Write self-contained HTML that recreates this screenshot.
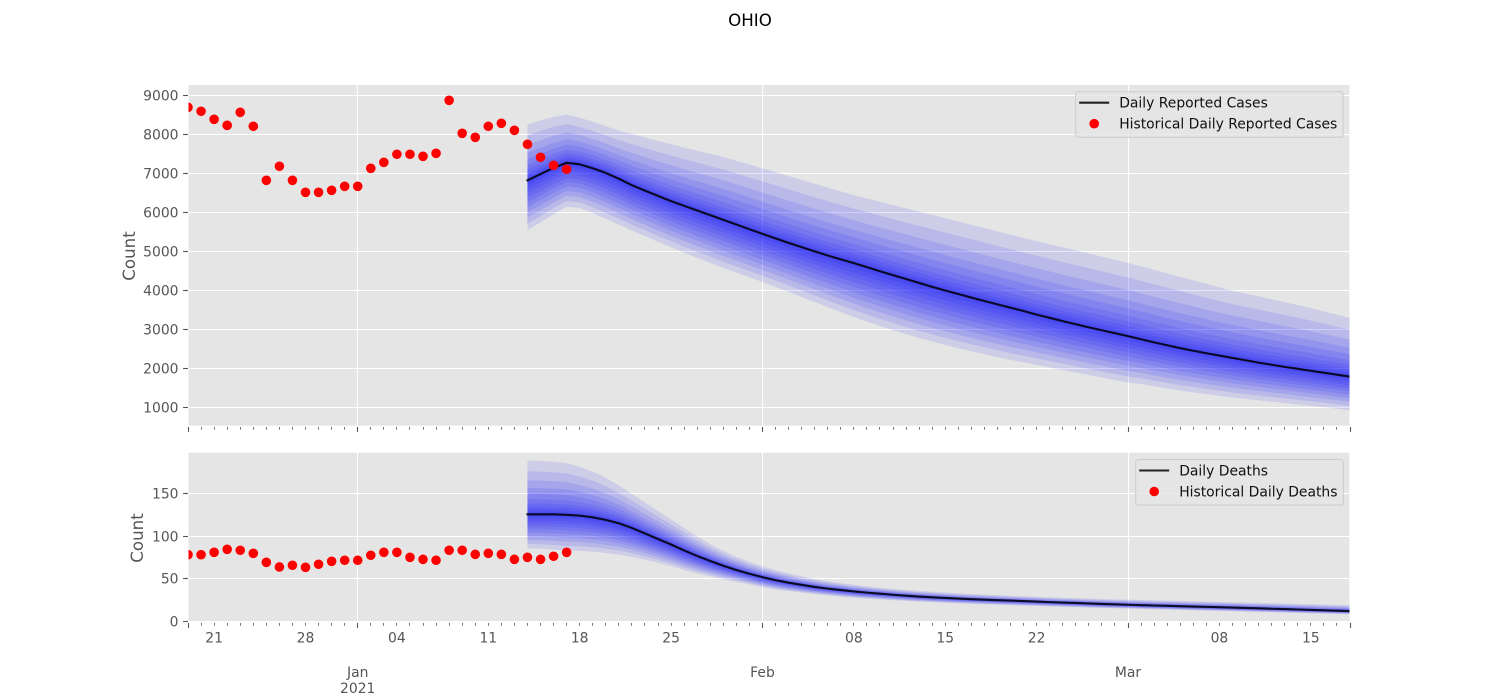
<!DOCTYPE html>
<html lang="en">
<head>
<meta charset="utf-8">
<title>OHIO forecast</title>
<style>
  html, body { margin: 0; padding: 0; background: #fff; }
  #chart { display: block; width: 1500px; height: 700px; font-family: "DejaVu Sans", "Liberation Sans", sans-serif; }
  .tick-label { font-size: 13.9px; fill: #555; }
  .axis-title { font-size: 16.67px; fill: #555; }
  .legend-text { font-size: 13.9px; fill: #111; }
</style>
</head>
<body>
<svg id="chart" xmlns="http://www.w3.org/2000/svg" width="1500" height="700" viewBox="0 0 1500 700">
  <defs>
    <clipPath id="clip-top"><rect x="188.5" y="85" width="1161" height="340.7"/></clipPath>
    <clipPath id="clip-bottom"><rect x="188.5" y="452.7" width="1161" height="169.3"/></clipPath>
  </defs>
  <text x="750" y="26" text-anchor="middle" font-size="16.67" fill="#000">OHIO</text>
</svg>
<script>
// Days are counted from 19 Dec 2020 (day 0).
const historyCases = [8694,8592,8386,8232,8566,8207,6820,7180,6820,6512,6512,6563,6666,6666,7128,7282,7488,7488,7436,7513,8874,8027,7924,8207,8284,8104,7745,7411,7205,7103];
const historyDeaths = [78.5,78.5,81.3,84.8,83.7,80.1,69.5,64,66,63.6,67.2,70.7,71.9,71.9,77.8,81.3,81.3,75.4,73,71.9,83.7,83.7,78.9,80.1,78.9,73,75.4,73,76.6,81.3];

// Forecast series cover day 26 (14 Jan) through day 89 (18 Mar).
const forecastStartDay = 26;
const casesMedian = [6820,6980,7140,7270,7230,7130,7010,6860,6695,6555,6420,6285,6165,6045,5925,5805,5685,5565,5445,5330,5215,5105,4995,4890,4790,4695,4590,4485,4385,4285,4185,4085,3990,3900,3810,3722,3635,3550,3465,3372,3290,3205,3125,3045,2970,2895,2820,2740,2660,2585,2510,2445,2380,2320,2260,2200,2140,2085,2030,1980,1930,1880,1830,1780];
const casesUpper = [8250,8360,8450,8510,8430,8320,8210,8100,8010,7920,7830,7750,7660,7580,7500,7420,7320,7225,7130,7030,6930,6830,6730,6635,6535,6440,6355,6270,6185,6100,6015,5935,5850,5765,5680,5595,5510,5425,5340,5260,5180,5100,5020,4940,4860,4780,4700,4610,4520,4430,4340,4250,4160,4070,3985,3915,3840,3765,3690,3620,3540,3455,3370,3285];
const casesLower = [5537,5740,5950,6140,6110,5980,5830,5680,5530,5390,5240,5100,4960,4830,4700,4570,4450,4330,4210,4085,3960,3825,3695,3565,3435,3310,3190,3080,2975,2870,2770,2680,2595,2510,2430,2355,2280,2210,2145,2080,2015,1950,1885,1820,1755,1690,1630,1590,1530,1475,1425,1375,1330,1285,1240,1205,1170,1135,1100,1065,1030,995,955,915];
const deathsMedian = [126,126,126,125.5,124.5,122.5,119.5,115.5,110,103.5,97,90.5,83.5,77,71,65.5,60.5,56,52,48.5,45.5,43,40.5,38.5,36.8,35.2,33.8,32.5,31.3,30.2,29.2,28.3,27.5,26.8,26.1,25.5,24.9,24.4,23.8,23.2,22.6,22.1,21.6,21,20.5,20,19.5,19,18.6,18.2,17.8,17.4,17,16.6,16.2,15.7,15.3,14.8,14.4,13.9,13.4,13,12.5,12];
const deathsUpper = [189.5,189,188,186.5,182,176.5,169,160,150,140,130,120,110,100,91,83,76,70,65,60.5,56.5,53,50,47.3,45,43,41.2,39.6,38.2,36.9,35.8,34.8,33.9,33,32.2,31.5,30.8,30.1,29.5,28.9,28.3,27.8,27.3,26.8,26.3,25.8,25.5,25.1,24.7,24.4,24,23.6,23.3,22.9,22.5,22.1,21.7,21.3,21,20.6,20.2,19.8,19.4,19];
const deathsLower = [86,85.5,84.5,83.5,83,82,80.5,78.5,76,72.5,69,65,60.5,56.5,53,49.5,46.5,43.5,40,37.5,35.5,33.8,32,30.5,29,27.8,26.7,25.7,24.8,24,23.2,22.5,21.8,21.2,20.6,20,19.5,19,18.5,18,17.5,17,16.6,16.1,15.7,15.3,14.9,14.5,14.1,13.7,13.3,12.9,12.5,12.2,11.8,11.4,11,10.6,10.2,9.8,9.4,9,8.6,8.2];

// Each nested band reaches this share of the way from the median to the outer bound.
const upperBandShares = [1,0.8,0.63,0.49,0.38,0.28,0.2,0.14,0.09,0.05,0.02];
const lowerBandShares = [1,0.87,0.75,0.64,0.54,0.44,0.35,0.26,0.18,0.1,0.04];

const casesTicks = [1000,2000,3000,4000,5000,6000,7000,8000,9000];
const deathsTicks = [0,50,100,150];
const weekTickDays = [2,9,16,23,30,37,51,58,65,79,86];
const weekTickLabels = ['21','28','04','11','18','25','08','15','22','08','15'];
const monthTickDays = [13,44,72];
const monthTickLabels = ['Jan','Feb','Mar'];
const lastDay = 89;

const NS = 'http://www.w3.org/2000/svg';
const svg = document.getElementById('chart');
const AX_LEFT = 188, AX_RIGHT = 1350;
const BG_LEFT = 188.5, BG_RIGHT = 1349.5;

function xDay(d) { return AX_LEFT + d * (AX_RIGHT - AX_LEFT) / lastDay; }
function yCases(v) { return 95.4 + (9000 - v) * 0.03895; }
function yDeaths(v) { return 621.3 - v * 0.8487; }
function snap(p) { return Math.round(p - 0.5) + 0.5; }

function make(tag, attrs, parent) {
  const el = document.createElementNS(NS, tag);
  for (const k in attrs) el.setAttribute(k, attrs[k]);
  (parent || svg).appendChild(el);
  return el;
}

function linePath(values, yFn) {
  return values.map((v, i) => (i ? 'L' : 'M') + xDay(forecastStartDay + i).toFixed(2) + ' ' + yFn(v).toFixed(2)).join('');
}

function bandPath(median, upper, lower, upShare, lowShare, yFn) {
  const top = median.map((m, i) => [xDay(forecastStartDay + i), yFn(m + (upper[i] - m) * upShare)]);
  const bottom = median.map((m, i) => [xDay(forecastStartDay + i), yFn(m + (lower[i] - m) * lowShare)]).reverse();
  return 'M' + top.concat(bottom).map(p => p[0].toFixed(2) + ' ' + p[1].toFixed(2)).join('L') + 'Z';
}

function drawPanel(opts) {
  const g = make('g', {});
  
  

  const bg = make('rect', { x: BG_LEFT, y: opts.top, width: BG_RIGHT - BG_LEFT, height: opts.bottom - opts.top, fill: '#e5e5e5' }, g);
  
  

  opts.yTicks.forEach(v => {
    const y = snap(opts.y(v));
    const grid = make('line', { x1: BG_LEFT, x2: BG_RIGHT, y1: y, y2: y, stroke: '#fff', 'stroke-width': 1.1 }, g);
    
    
    const tick = make('line', { x1: AX_LEFT - 4.9, x2: AX_LEFT, y1: y, y2: y, stroke: '#555', 'stroke-width': 1.1 }, g);
    
    
    const label = make('text', { x: 178.5, y: y + 5, 'text-anchor': 'end', class: 'tick-label' }, g);
    label.textContent = String(v);
    
    
  });

  monthTickDays.forEach(d => {
    const x = snap(xDay(d));
    const grid = make('line', { x1: x, x2: x, y1: opts.top, y2: opts.bottom, stroke: '#fff', 'stroke-width': 1.1 }, g);
    
    
  });

  for (let d = 0; d <= lastDay; d++) {
    const major = monthTickDays.includes(d) || d === 0 || d === lastDay;
    const x = snap(xDay(d));
    const tick = make('line', { x1: x, x2: x, y1: opts.tickY, y2: opts.tickY + (major ? 4.9 : 2.8), stroke: '#555', 'stroke-width': major ? 1.1 : 0.8 }, g);
    
    
  }

  const plot = make('g', { 'clip-path': 'url(#' + opts.clip + ')' }, g);
  
  

  upperBandShares.forEach((share, i) => {
    const band = make('path', { d: bandPath(opts.median, opts.upper, opts.lower, share, lowerBandShares[i], opts.y), fill: '#0000ff', 'fill-opacity': 0.1, stroke: 'none' }, plot);
    
    
  });

  const med = make('path', { d: linePath(opts.median, opts.y), fill: 'none', stroke: '#000', 'stroke-opacity': 0.85, 'stroke-width': 2.1, 'stroke-linecap': 'square', 'stroke-linejoin': 'round' }, plot);
  
  

  opts.history.forEach((v, i) => {
    const dot = make('circle', { cx: xDay(i), cy: opts.y(v), r: 4.8, fill: '#ff0000' }, plot);
    
    
  });

  const yTitle = make('text', { x: opts.titleX, y: opts.titleY, 'text-anchor': 'middle', class: 'axis-title', transform: 'rotate(-90 ' + opts.titleX + ' ' + opts.titleY + ')' }, g);
  yTitle.textContent = 'Count';
  
  

  const box = make('rect', { x: opts.legend.x, y: opts.legend.y, width: opts.legend.w, height: 45.6, rx: 2.8, fill: '#e5e5e5', 'fill-opacity': 0.8, stroke: '#cccccc', 'stroke-width': 1 }, g);
  
  

  const lx = opts.legend.x + 3.5;
  const ly = opts.legend.y + 11;
  const key = make('line', { x1: lx, x2: lx + 30, y1: ly, y2: ly, stroke: '#000', 'stroke-opacity': 0.85, 'stroke-width': 2.1 }, g);
  
  
  const keyText = make('text', { x: lx + 40, y: ly + 5, class: 'legend-text' }, g);
  keyText.textContent = opts.legend.lineLabel;
  
  
  const dotKey = make('circle', { cx: lx + 15, cy: ly + 21, r: 4.8, fill: '#ff0000' }, g);
  
  
  const dotText = make('text', { x: lx + 40, y: ly + 26, class: 'legend-text' }, g);
  dotText.textContent = opts.legend.dotLabel;
  
  
}

drawPanel({
  name: 'cases', top: 85, bottom: 425.7, tickY: 427, clip: 'clip-top', y: yCases, yTicks: casesTicks,
  median: casesMedian, upper: casesUpper, lower: casesLower, history: historyCases,
  titleX: 135, titleY: 256,
  legend: { x: 1075.7, y: 91.7, w: 267.4, lineLabel: 'Daily Reported Cases', dotLabel: 'Historical Daily Reported Cases' }
});
drawPanel({
  name: 'deaths', top: 452.7, bottom: 622, tickY: 623, clip: 'clip-bottom', y: yDeaths, yTicks: deathsTicks,
  median: deathsMedian, upper: deathsUpper, lower: deathsLower, history: historyDeaths,
  titleX: 143, titleY: 538,
  legend: { x: 1135.7, y: 459.5, w: 207.6, lineLabel: 'Daily Deaths', dotLabel: 'Historical Daily Deaths' }
});

weekTickDays.forEach((d, i) => {
  const t = make('text', { x: xDay(d), y: 642.5, 'text-anchor': 'middle', class: 'tick-label' });
  t.textContent = weekTickLabels[i];
  
  
});
monthTickDays.forEach((d, i) => {
  const t = make('text', { x: xDay(d), y: 677, 'text-anchor': 'middle', class: 'tick-label' });
  t.textContent = monthTickLabels[i];
  
  
});
const yearLabel = make('text', { x: xDay(monthTickDays[0]), y: 693, 'text-anchor': 'middle', class: 'tick-label' });
yearLabel.textContent = '2021';


</script>
</body>
</html>
